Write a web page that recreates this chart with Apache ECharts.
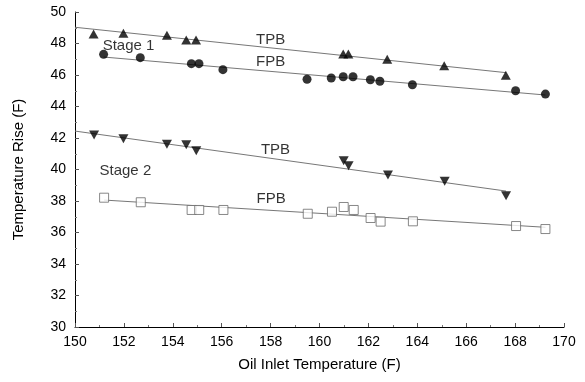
<!DOCTYPE html>
<html>
<head>
<meta charset="utf-8">
<script src="https://cdn.jsdelivr.net/npm/echarts@6/dist/echarts.min.js"></script>
<style>
  html, body { margin: 0; padding: 0; background: #fff; }
  #chart { width: 585px; height: 382px; }
</style>
</head>
<body>
<div id="chart"></div>
<script>
// Stage 1 TPB (triangles up)
const s1TpbX = [150.76, 151.98, 153.76, 154.55, 154.95, 160.97, 161.18, 162.77, 165.10, 167.62];
const s1TpbY = [48.60, 48.65, 48.52, 48.22, 48.22, 47.33, 47.33, 47.00, 46.59, 45.98];
// Stage 1 FPB (filled circles)
const s1FpbX = [151.17, 152.67, 154.76, 155.07, 156.05, 159.49, 160.48, 160.97, 161.37, 162.08, 162.47, 163.80, 168.02, 169.24];
const s1FpbY = [47.31, 47.10, 46.72, 46.72, 46.34, 45.73, 45.81, 45.89, 45.89, 45.70, 45.60, 45.38, 45.00, 44.79];
// Stage 2 TPB (triangles down)
const s2TpbX = [150.78, 151.98, 153.76, 154.55, 154.96, 160.99, 161.19, 162.80, 165.12, 167.63];
const s2TpbY = [42.19, 41.96, 41.60, 41.57, 41.19, 40.56, 40.24, 39.65, 39.25, 38.34];
// Stage 2 FPB (open squares)
const s2FpbX = [151.19, 152.69, 154.77, 155.08, 156.07, 159.52, 160.51, 160.99, 161.40, 162.09, 162.50, 163.82, 168.04, 169.24];
const s2FpbY = [38.21, 37.92, 37.43, 37.43, 37.43, 37.19, 37.32, 37.62, 37.43, 36.92, 36.69, 36.71, 36.41, 36.22];

// fitted trend lines (end points)
const fitS1Tpb = [[150, 49.03], [167.62, 46.15]];
const fitS1Fpb = [[151.17, 47.14], [169.24, 44.73]];
const fitS2Tpb = [[150, 42.44], [167.63, 38.63]];
const fitS2Fpb = [[151.19, 38.06], [169.24, 36.33]];

const noteText = ['TPB', 'Stage 1', 'FPB', 'TPB', 'Stage 2', 'FPB'];
const noteX = [158.0, 152.19, 158.0, 158.2, 152.06, 158.02];
const noteY = [48.22, 47.86, 46.81, 41.24, 39.9, 38.13];

const pairs = (xs, ys) => xs.map((x, i) => [x, ys[i]]);

const font = 'Liberation Sans, Arial, sans-serif';
const chart = echarts.init(document.getElementById('chart'));

const fitLine = (data) => ({
  type: 'line',
  data: data,
  symbol: 'none',
  silent: true,
  lineStyle: { color: '#777', width: 1 },
  z: 1,
});

chart.setOption({
  animation: false,
  backgroundColor: '#fff',
  grid: { left: 75, right: 21, top: 12, bottom: 55 },
  xAxis: {
    type: 'value',
    min: 150,
    max: 170,
    interval: 2,
    name: 'Oil Inlet Temperature (F)',
    nameLocation: 'middle',
    nameGap: 30,
    nameTextStyle: { fontFamily: font, fontSize: 15, color: '#000' },
    axisLine: { onZero: false, lineStyle: { color: '#000', width: 1 } },
    axisTick: { inside: true, length: 4, lineStyle: { color: '#555' } },
    minorTick: { show: true, splitNumber: 2, length: 2, lineStyle: { color: '#777' } },
    splitLine: { show: false },
    axisLabel: { fontFamily: font, fontSize: 14, color: '#000', margin: 8 },
  },
  yAxis: {
    type: 'value',
    min: 30,
    max: 50,
    interval: 2,
    name: 'Temperature Rise (F)',
    nameLocation: 'middle',
    nameGap: 49,
    nameTextStyle: { fontFamily: font, fontSize: 15, color: '#000' },
    axisLine: { show: true, lineStyle: { color: '#000', width: 1 } },
    axisTick: { inside: true, length: 4, lineStyle: { color: '#555' } },
    minorTick: { show: true, splitNumber: 2, length: 2, lineStyle: { color: '#777' } },
    splitLine: { show: false },
    axisLabel: { fontFamily: font, fontSize: 14, color: '#000', margin: 9 },
  },
  series: [
    fitLine(fitS1Tpb),
    fitLine(fitS1Fpb),
    fitLine(fitS2Tpb),
    fitLine(fitS2Fpb),
    {
      type: 'scatter',
      data: pairs(s1TpbX, s1TpbY),
      symbol: 'triangle',
      symbolSize: [10, 9],
      itemStyle: { color: '#000' },
      z: 3,
    },
    {
      type: 'scatter',
      data: pairs(s1FpbX, s1FpbY),
      symbol: 'circle',
      symbolSize: 9,
      itemStyle: { color: '#000' },
      z: 3,
    },
    {
      type: 'scatter',
      data: pairs(s2TpbX, s2TpbY),
      symbol: 'triangle',
      symbolRotate: 180,
      symbolSize: [10, 9],
      itemStyle: { color: '#000' },
      z: 3,
    },
    {
      type: 'scatter',
      data: pairs(s2FpbX, s2FpbY),
      symbol: 'rect',
      symbolSize: 9,
      itemStyle: { color: '#fff', borderColor: '#6a6a6a', borderWidth: 1 },
      z: 3,
    },
    {
      type: 'scatter',
      silent: true,
      symbolSize: 0,
      data: noteText.map((t, i) => ({ value: [noteX[i], noteY[i]], name: t })),
      label: {
        show: true,
        position: 'inside',
        formatter: (p) => p.name,
        fontFamily: font,
        fontSize: 15,
        color: '#000',
      },
      z: 4,
    },
  ],
});
</script>
</body>
</html>
